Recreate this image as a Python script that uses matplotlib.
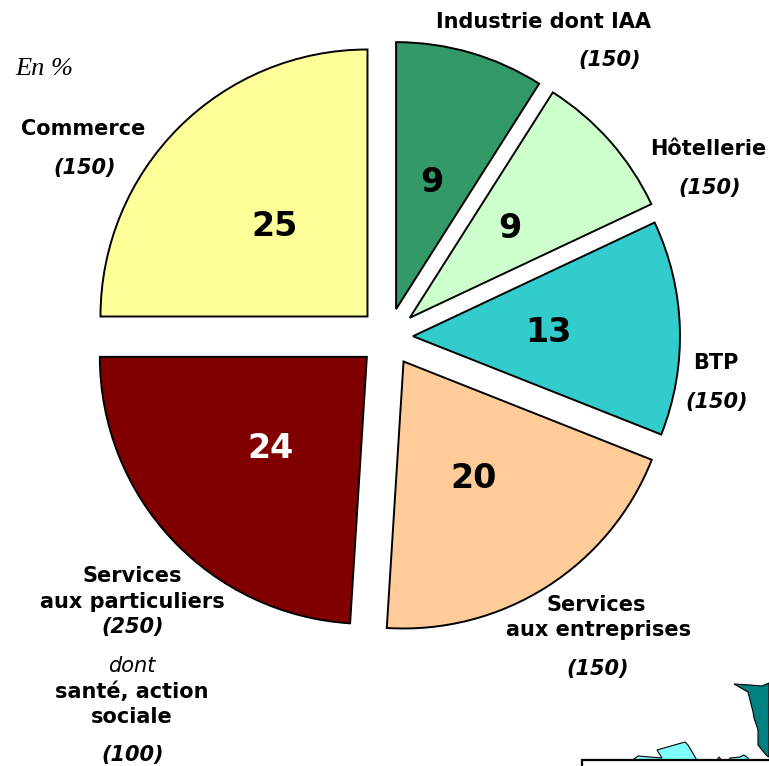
import matplotlib
matplotlib.use('Agg')
import matplotlib.pyplot as plt
from matplotlib.patches import Polygon, Rectangle

# hard data, clockwise from the top
sectors = ['Industrie', 'Hotellerie', 'BTP', 'Services entreprises',
           'Services particuliers', 'Commerce']
values = [9, 9, 13, 20, 24, 25]
colors = ['#339966', '#CCFFCC', '#33CCCC', '#FFCC99', '#800000', '#FFFF99']
value_colors = ['black', 'black', 'black', 'black', 'white', 'black']
value_pos = [(432, 183), (510, 228), (548, 332), (474, 478), (270, 449), (275, 226)]

# text, x, y, bold, italic (pixels of the picture)
labels = [
    ('Industrie dont IAA', 543, 22, True, False),
    ('(150)', 610, 60, True, True),
    ('Hôtellerie', 708, 149, True, False),
    ('(150)', 710, 188, True, True),
    ('BTP', 716, 363, True, False),
    ('(150)', 717, 402, True, True),
    ('Services', 596, 605, True, False),
    ('aux entreprises', 599, 630, True, False),
    ('(150)', 598, 669, True, True),
    ('Services', 132, 576, True, False),
    ('aux particuliers', 132, 602, True, False),
    ('(250)', 133, 627, True, True),
    ('dont', 132, 666, False, True),
    ('santé, action', 132, 692, True, False),
    ('sociale', 132, 717, True, False),
    ('(100)', 133, 755, True, True),
    ('Commerce', 83, 129, True, False),
    ('(150)', 85, 168, True, True),
]

W, H = 769, 766


def flip(pts):
    return [(x, H - y) for x, y in pts]


fig = plt.figure(figsize=(W / 100, H / 100), dpi=100)
ax = fig.add_axes([0, 0, 1, 1])

# pie adds explode as is, so it is in pixels here
explode = [29, 29, 25, 29, 29, 29]
ax.pie(values, colors=colors, explode=explode, startangle=90, counterclock=False,
       radius=267, center=(388, H - 337),
       wedgeprops={'edgecolor': 'black', 'linewidth': 1.4})
ax.set_xlim(0, W)
ax.set_ylim(0, H)
ax.set_aspect('equal')
ax.axis('off')

for v, c, (x, y) in zip(values, value_colors, value_pos):
    ax.text(x, H - y, str(v), fontsize=24, fontweight='bold', color=c,
            ha='center', va='center', family='DejaVu Sans')

for txt, x, y, bold, italic in labels:
    ax.text(x, H - y, txt, fontsize=15, family='DejaVu Sans',
            fontweight='bold' if bold else 'normal',
            fontstyle='italic' if italic else 'normal',
            ha='center', va='center')

ax.text(15, H - 69, 'En %', fontsize=19, family='Liberation Serif', fontstyle='italic',
        ha='left', va='center')

# bit of the map inset, bottom right
teal = [(734, 684), (750, 685), (762, 686), (769, 683), (769, 757), (767, 756), (762, 750),
        (758, 745), (758, 730), (754, 718), (753, 712), (748, 692)]
isle1 = [(630, 762), (638, 756), (662, 758), (657, 750), (685, 742), (688, 745), (698, 762)]
isle2 = [(716, 762), (719, 757), (723, 762)]
isle3 = [(728, 762), (730, 758), (740, 757), (744, 755), (748, 758), (749, 762)]
ax.add_patch(Polygon(flip(teal), facecolor='#008080', edgecolor='black', linewidth=0.8))
for isle in [isle1, isle2, isle3]:
    ax.add_patch(Polygon(flip(isle), facecolor='#80FFFF', edgecolor='black', linewidth=0.8))
ax.add_patch(Rectangle((582, -20), 200, H - 759.5 + 20, facecolor='white', edgecolor='black',
                       linewidth=1.6, zorder=5))

plt.savefig('out.png', dpi=100)
